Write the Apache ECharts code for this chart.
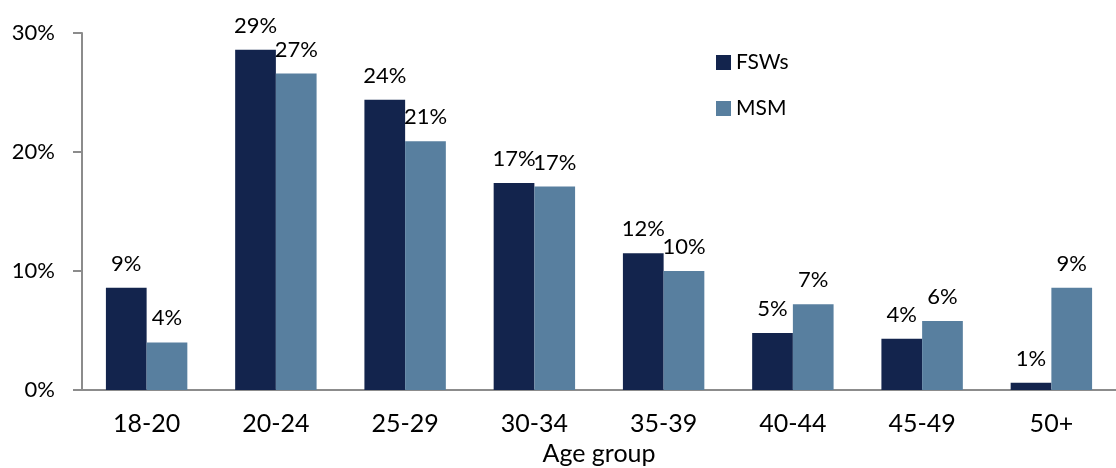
<!DOCTYPE html>
<html>
<head>
<meta charset="utf-8">
<script src="https://cdn.jsdelivr.net/npm/echarts@6/dist/echarts.min.js"></script>
<style>
  html, body { margin: 0; padding: 0; background: #fff; }
  #chart { width: 1116px; height: 468px; }
</style>
</head>
<body>
<div id="chart"></div>
<script>
// Age distribution of survey participants (% of each group)
const ageGroups = ['18-20', '20-24', '25-29', '30-34', '35-39', '40-44', '45-49', '50+'];
const fswValues = [8.6, 28.6, 24.4, 17.4, 11.5, 4.8, 4.3, 0.6];
const msmValues = [4.0, 26.6, 20.9, 17.1, 10.0, 7.2, 5.8, 8.6];
const yTicks = [0, 10, 20, 30];

const FONT = 'Lato, "Open Sans", sans-serif';
const TEXT = '#000';
const AXIS = '#8c8c8c';

const chart = echarts.init(document.getElementById('chart'), null, { renderer: 'canvas' });

const labelStyle = {
  show: true,
  position: 'top',
  distance: 13,
  color: TEXT,
  fontFamily: FONT,
  fontSize: 22,
  formatter: p => Math.round(p.value) + '%'
};

chart.setOption({
  animation: false,
  grid: { left: 82, right: 0, top: 33, bottom: 78, containLabel: false, outerBoundsMode: 'none' },
  legend: {
    orient: 'vertical',
    left: 711,
    top: 47,
    itemWidth: 15,
    itemHeight: 15,
    itemGap: 25,
    icon: 'rect',
    textStyle: { color: TEXT, fontFamily: FONT, fontSize: 21, padding: [0, 0, 0, 0] },
    data: ['FSWs', 'MSM']
  },
  xAxis: {
    type: 'category',
    data: ageGroups,
    name: 'Age group',
    nameLocation: 'middle',
    nameGap: 51,
    nameTextStyle: { color: TEXT, fontFamily: FONT, fontSize: 25 },
    axisLine: { lineStyle: { color: AXIS, width: 2 } },
    axisTick: { show: false },
    axisLabel: { color: TEXT, fontFamily: FONT, fontSize: 25, margin: 21 }
  },
  yAxis: {
    type: 'value',
    min: yTicks[0],
    max: yTicks[yTicks.length - 1],
    interval: 10,
    axisLine: { show: true, lineStyle: { color: AXIS, width: 2 } },
    axisTick: { show: true, inside: false, length: 9, lineStyle: { color: AXIS, width: 2 } },
    splitLine: { show: false },
    axisLabel: { color: TEXT, fontFamily: FONT, fontSize: 22, margin: 27, formatter: v => v + '%' }
  },
  series: [
    {
      name: 'FSWs',
      type: 'bar',
      data: fswValues,
      barGap: '0%',
      barCategoryGap: '37%',
      itemStyle: { color: '#13244d' },
      label: labelStyle
    },
    {
      name: 'MSM',
      type: 'bar',
      data: msmValues,
      barGap: '0%',
      barCategoryGap: '37%',
      itemStyle: { color: '#587f9f' },
      label: labelStyle
    }
  ]
});
</script>
</body>
</html>
